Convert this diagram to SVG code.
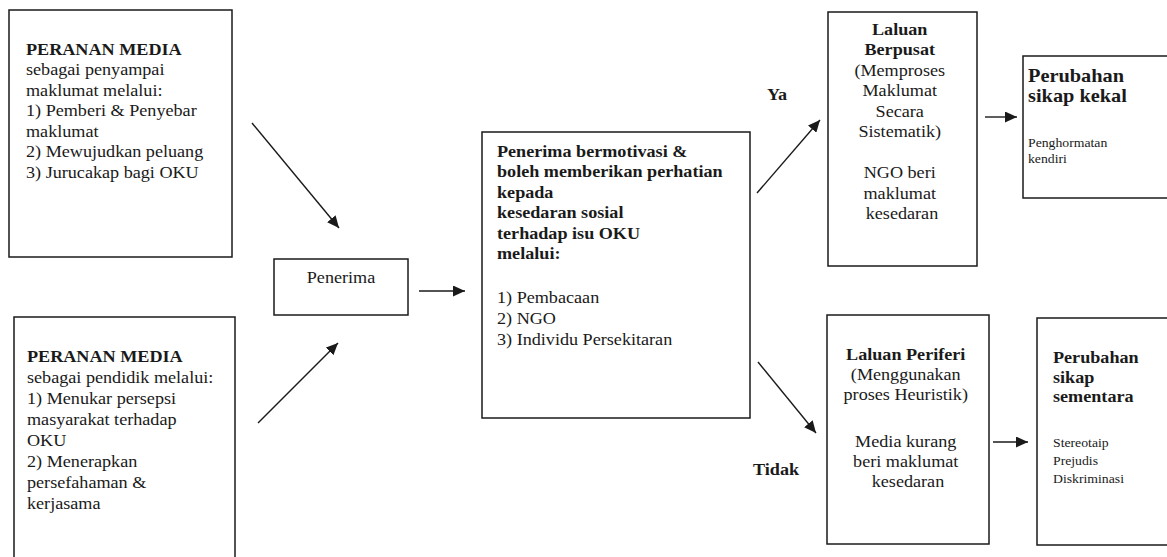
<svg xmlns="http://www.w3.org/2000/svg" width="1167" height="557" viewBox="0 0 1167 557">
<style>
.box{fill:#fff;stroke:#1a1a1a;stroke-width:1.5}
.t{font-family:"Liberation Serif","Times New Roman",serif;font-size:16.5px;fill:#1a1a1a}
.b{font-weight:bold}
.s{font-size:12.5px}
.l{font-size:18.5px}
.c{text-anchor:middle}
.ln{stroke:#1a1a1a;stroke-width:1.4;fill:none;marker-end:url(#ah)}
</style>
<defs>
<marker id="ah" markerUnits="userSpaceOnUse" markerWidth="13" markerHeight="11" refX="12" refY="5.5" orient="auto">
<path d="M0,0 L12,5.5 L0,11 Z" fill="#1a1a1a"/>
</marker>
</defs>
<rect width="1167" height="557" fill="#fff"/>

<g id="connectors">
<line class="ln" x1="252" y1="123" x2="339" y2="228"/>
<line class="ln" x1="258" y1="423" x2="338" y2="343"/>
<line class="ln" x1="419" y1="291" x2="465" y2="291"/>
<line class="ln" x1="757" y1="193" x2="820" y2="120"/>
<line class="ln" x1="758" y1="362" x2="816" y2="433"/>
<line class="ln" x1="985" y1="117" x2="1017" y2="117"/>
<line class="ln" x1="993" y1="442" x2="1028" y2="442"/>
</g>

<g id="media-penyampai">
<rect class="box" x="9" y="10" width="223" height="247"/>
<text class="t" transform="translate(26,0) scale(1.1,1)">
<tspan class="b" x="0" y="55">PERANAN MEDIA</tspan>
<tspan x="0" y="75.5">sebagai penyampai</tspan>
<tspan x="0" y="96">maklumat melalui:</tspan>
<tspan x="0" y="116.5">1) Pemberi &amp; Penyebar</tspan>
<tspan x="0" y="137">maklumat</tspan>
<tspan x="0" y="157.5">2) Mewujudkan peluang</tspan>
<tspan x="0" y="178">3) Jurucakap bagi OKU</tspan>
</text>
</g>

<g id="media-pendidik">
<rect class="box" x="14" y="317" width="221" height="260"/>
<text class="t" transform="translate(27,0) scale(1.1,1)">
<tspan class="b" x="0" y="362">PERANAN MEDIA</tspan>
<tspan x="0" y="383">sebagai pendidik melalui:</tspan>
<tspan x="0" y="404">1) Menukar persepsi</tspan>
<tspan x="0" y="425">masyarakat terhadap</tspan>
<tspan x="0" y="446">OKU</tspan>
<tspan x="0" y="467">2) Menerapkan</tspan>
<tspan x="0" y="488">persefahaman &amp;</tspan>
<tspan x="0" y="509">kerjasama</tspan>
</text>
</g>

<g id="penerima">
<rect class="box" x="274" y="259" width="134" height="56"/>
<text class="t c" transform="translate(341,0) scale(1.1,1)"><tspan x="0" y="283">Penerima</tspan></text>
</g>

<g id="penerima-bermotivasi">
<rect class="box" x="482" y="132" width="268" height="286"/>
<text class="t" transform="translate(497,0) scale(1.1,1)">
<tspan class="b" x="0" y="157">Penerima bermotivasi &amp;</tspan>
<tspan class="b" x="0" y="177.5">boleh memberikan perhatian</tspan>
<tspan class="b" x="0" y="198">kepada</tspan>
<tspan class="b" x="0" y="218.5">kesedaran sosial</tspan>
<tspan class="b" x="0" y="239">terhadap isu OKU</tspan>
<tspan class="b" x="0" y="259.5">melalui:</tspan>
<tspan x="0" y="303">1) Pembacaan</tspan>
<tspan x="0" y="324">2) NGO</tspan>
<tspan x="0" y="345">3) Individu Persekitaran</tspan>
</text>
</g>

<g id="label-ya">
<text class="t b" transform="translate(767,0) scale(1.1,1)"><tspan x="0" y="100">Ya</tspan></text>
</g>

<g id="label-tidak">
<text class="t b" transform="translate(753,0) scale(1.1,1)"><tspan x="0" y="475">Tidak</tspan></text>
</g>

<g id="laluan-berpusat">
<rect class="box" x="828" y="12" width="149" height="254"/>
<text class="t c" transform="translate(902,0) scale(1.1,1)">
<tspan class="b" x="0" y="35">Laluan</tspan>
<tspan class="b" x="0" y="55.5">Berpusat</tspan>
<tspan x="0" y="76">(Memproses</tspan>
<tspan x="0" y="96.5">Maklumat</tspan>
<tspan x="0" y="117">Secara</tspan>
<tspan x="0" y="137.5">Sistematik)</tspan>
<tspan x="0" y="178.5">NGO beri</tspan>
<tspan x="0" y="199">maklumat</tspan>
<tspan x="0" y="219.5">kesedaran</tspan>
</text>
</g>

<g id="laluan-periferi">
<rect class="box" x="827" y="315" width="162" height="229"/>
<text class="t c" transform="translate(908,0) scale(1.1,1)">
<tspan class="b" x="0" y="360">Laluan Periferi</tspan>
<tspan x="0" y="380">(Menggunakan</tspan>
<tspan x="0" y="400">proses Heuristik)</tspan>
<tspan x="0" y="447">Media kurang</tspan>
<tspan x="0" y="467">beri maklumat</tspan>
<tspan x="0" y="487">kesedaran</tspan>
</text>
</g>

<g id="sikap-kekal">
<rect class="box" x="1023" y="56" width="160" height="142"/>
<text class="t" transform="translate(1028,0) scale(1.1,1)">
<tspan class="b l" x="0" y="82">Perubahan</tspan>
<tspan class="b l" x="0" y="102">sikap kekal</tspan>
<tspan class="s" x="0" y="147">Penghormatan</tspan>
<tspan class="s" x="0" y="163">kendiri</tspan>
</text>
</g>

<g id="sikap-sementara">
<rect class="box" x="1037" y="318" width="160" height="227"/>
<text class="t" transform="translate(1053,0) scale(1.1,1)">
<tspan class="b" x="0" y="363">Perubahan</tspan>
<tspan class="b" x="0" y="383">sikap</tspan>
<tspan class="b" x="0" y="402">sementara</tspan>
<tspan class="s" x="0" y="447">Stereotaip</tspan>
<tspan class="s" x="0" y="465">Prejudis</tspan>
<tspan class="s" x="0" y="483">Diskriminasi</tspan>
</text>
</g>
</svg>
